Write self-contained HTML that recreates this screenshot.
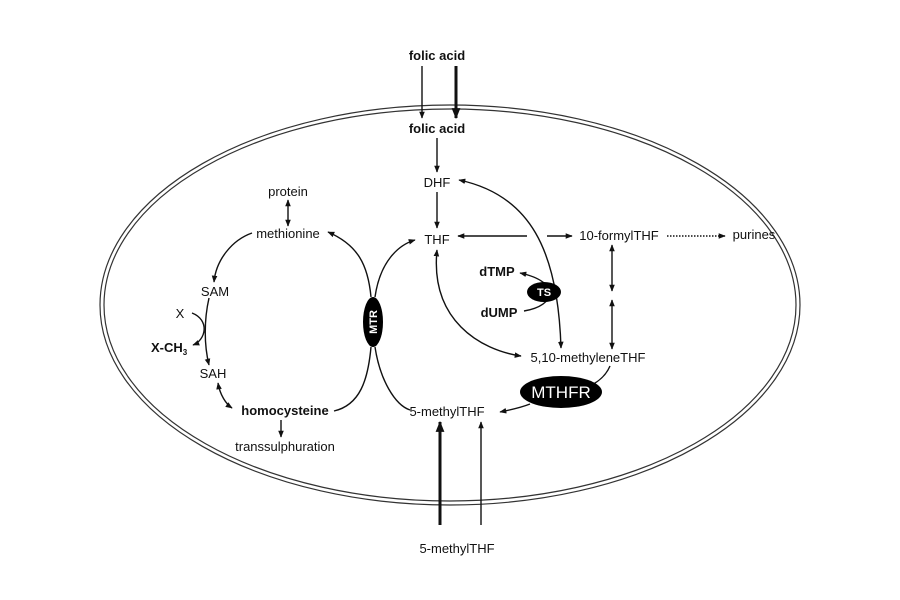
<!DOCTYPE html>
<html><head><meta charset="utf-8"><style>
html,body{margin:0;padding:0;background:#fff}
svg{display:block}
text{font-family:"Liberation Sans",Arial,sans-serif;font-size:13px;fill:#111}
.b{font-weight:bold}
</style></head><body>
<svg width="900" height="600" viewBox="0 0 900 600" xmlns="http://www.w3.org/2000/svg">
<defs>
<marker id="a" viewBox="0 0 10 10" refX="9" refY="5" markerWidth="7" markerHeight="7" orient="auto-start-reverse" markerUnits="userSpaceOnUse"><path d="M0,1 L10,5 L0,9 Z" fill="#111"/></marker>
<marker id="A" viewBox="0 0 10 10" refX="9" refY="5" markerWidth="11" markerHeight="11" orient="auto" markerUnits="userSpaceOnUse"><path d="M0,1 L10,5 L0,9 Z" fill="#111"/></marker>
</defs>
<ellipse cx="450" cy="305" rx="350" ry="200" fill="none" stroke="#333" stroke-width="1.2"/>
<ellipse cx="450" cy="305" rx="346" ry="196" fill="none" stroke="#333" stroke-width="1.2"/>
<g fill="none" stroke="#111" stroke-width="1.4">
<line x1="422" y1="66" x2="422" y2="118" marker-end="url(#a)"/>
<line x1="456" y1="66" x2="456" y2="118" stroke-width="3" marker-end="url(#A)"/>
<line x1="437" y1="138" x2="437" y2="172" marker-end="url(#a)"/>
<line x1="437" y1="192" x2="437" y2="228" marker-end="url(#a)"/>
<line x1="288" y1="200" x2="288" y2="226" marker-start="url(#a)" marker-end="url(#a)"/>
<line x1="281" y1="420" x2="281" y2="437" marker-end="url(#a)"/>
<line x1="527" y1="236" x2="458" y2="236" marker-end="url(#a)"/>
<line x1="547" y1="236" x2="572" y2="236" marker-end="url(#a)"/>
<line x1="667" y1="236" x2="725" y2="236" stroke-dasharray="1.5,1.5" marker-end="url(#a)"/>
<line x1="612" y1="245" x2="612" y2="291" marker-start="url(#a)" marker-end="url(#a)"/>
<line x1="612" y1="300" x2="612" y2="349" marker-start="url(#a)" marker-end="url(#a)"/>
<line x1="440" y1="525" x2="440" y2="422" stroke-width="3" marker-end="url(#A)"/>
<line x1="481" y1="525" x2="481" y2="422" marker-end="url(#a)"/>
<path d="M561,348 C558,250 530,195 459,180" marker-end="url(#a)" marker-start="url(#a)"/>
<path d="M437,250 C430,320 480,350 521,356" marker-start="url(#a)" marker-end="url(#a)"/>
<path d="M524,311 C556,306 562,282 520,273" marker-end="url(#a)"/>
<path d="M610,366 C605,378 595,384 585,388"/>
<path d="M530,404 C520,408 510,410 500,412" marker-end="url(#a)"/>
<path d="M252,233 C232,240 216,260 214,282" marker-end="url(#a)"/>
<path d="M209,298 C204,320 204,345 209,365" marker-end="url(#a)"/>
<path d="M192,313 C210,320 206,340 193,345" marker-end="url(#a)"/>
<path d="M218,383 C220,395 226,404 232,408" marker-start="url(#a)" marker-end="url(#a)"/>
<path d="M334,411 C360,405 368,380 371,347"/>
<path d="M371,297 C368,265 358,245 328,232" marker-end="url(#a)"/>
<path d="M375,297 C380,262 398,245 415,240" marker-end="url(#a)"/>
<path d="M375,347 C380,380 395,405 410,410"/>
</g>
<ellipse cx="373" cy="322" rx="10" ry="25" fill="#000"/>
<text x="373" y="322" transform="rotate(-90 373 322)" text-anchor="middle" dy="4" class="b" style="fill:#fff;font-size:11px">MTR</text>
<ellipse cx="544" cy="292" rx="17" ry="10" fill="#000"/>
<text x="544" y="296" text-anchor="middle" class="b" style="fill:#fff;font-size:11px">TS</text>
<ellipse cx="561" cy="392" rx="41" ry="16" fill="#000"/>
<text x="561" y="398" text-anchor="middle" style="fill:#fff;font-size:17px">MTHFR</text>
<g text-anchor="middle">
<text x="437" y="60" class="b">folic acid</text>
<text x="437" y="133" class="b">folic acid</text>
<text x="437" y="187">DHF</text>
<text x="437" y="244">THF</text>
<text x="288" y="196">protein</text>
<text x="288" y="238">methionine</text>
<text x="215" y="296">SAM</text>
<text x="180" y="318">X</text>
<text x="213" y="378">SAH</text>
<text x="285" y="415" class="b">homocysteine</text>
<text x="285" y="451">transsulphuration</text>
<text x="447" y="416">5-methylTHF</text>
<text x="457" y="553">5-methylTHF</text>
<text x="497" y="276" class="b">dTMP</text>
<text x="499" y="317" class="b">dUMP</text>
<text x="619" y="240">10-formylTHF</text>
<text x="754" y="239">purines</text>
<text x="588" y="362">5,10-methyleneTHF</text>
</g>
<text x="151" y="352" class="b">X-CH<tspan style="font-size:8px" dy="3">3</tspan></text>
</svg>
</body></html>
